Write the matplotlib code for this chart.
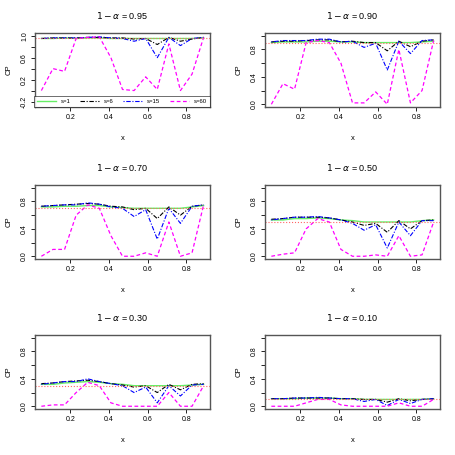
import matplotlib
matplotlib.use("Agg")
import matplotlib.pyplot as plt
import numpy as np

x = [0.05,0.11,0.17,0.23,0.29,0.35,0.41,0.47,0.53,0.59,0.65,0.71,0.77,0.83,0.89]
levels = [0.95,0.90,0.70,0.50,0.30,0.10]
n1 = {0.95:[0.95,0.95,0.96,0.95,0.96,0.96,0.95,0.95,0.95,0.95,0.95,0.95,0.95,0.95,0.96],
      0.90:[0.90,0.91,0.91,0.91,0.92,0.92,0.91,0.91,0.90,0.90,0.90,0.90,0.90,0.91,0.92],
      0.70:[0.72,0.72,0.73,0.73,0.74,0.74,0.72,0.71,0.70,0.70,0.70,0.70,0.70,0.72,0.74],
      0.50:[0.53,0.53,0.55,0.55,0.56,0.55,0.53,0.52,0.50,0.50,0.50,0.50,0.50,0.52,0.53],
      0.30:[0.32,0.32,0.34,0.35,0.36,0.35,0.33,0.32,0.30,0.30,0.30,0.30,0.30,0.31,0.32],
      0.10:[0.11,0.11,0.11,0.12,0.12,0.12,0.11,0.11,0.10,0.10,0.10,0.10,0.10,0.10,0.11]}
n6 = {0.95:[0.95,0.96,0.96,0.96,0.97,0.97,0.96,0.96,0.94,0.95,0.84,0.97,0.90,0.94,0.97],
      0.90:[0.91,0.92,0.92,0.93,0.94,0.94,0.91,0.92,0.90,0.90,0.78,0.92,0.84,0.92,0.94],
      0.70:[0.73,0.74,0.75,0.76,0.77,0.76,0.73,0.72,0.68,0.70,0.55,0.72,0.60,0.73,0.75],
      0.50:[0.54,0.55,0.57,0.57,0.57,0.56,0.53,0.50,0.45,0.48,0.35,0.52,0.40,0.52,0.53],
      0.30:[0.33,0.34,0.36,0.37,0.38,0.36,0.33,0.31,0.28,0.30,0.20,0.32,0.24,0.32,0.33],
      0.10:[0.11,0.11,0.12,0.12,0.12,0.12,0.11,0.11,0.10,0.10,0.06,0.11,0.08,0.10,0.11]}
n15 = {0.95:[0.95,0.96,0.96,0.96,0.97,0.98,0.96,0.95,0.90,0.95,0.60,0.97,0.82,0.95,0.97],
       0.90:[0.91,0.93,0.93,0.93,0.95,0.95,0.91,0.92,0.83,0.89,0.50,0.92,0.74,0.93,0.94],
       0.70:[0.73,0.74,0.75,0.75,0.78,0.76,0.72,0.70,0.58,0.68,0.25,0.70,0.48,0.73,0.75],
       0.50:[0.53,0.55,0.57,0.57,0.58,0.56,0.53,0.48,0.38,0.46,0.12,0.50,0.30,0.52,0.52],
       0.30:[0.32,0.34,0.36,0.36,0.40,0.36,0.33,0.30,0.20,0.28,0.05,0.30,0.15,0.31,0.32],
       0.10:[0.11,0.11,0.12,0.12,0.13,0.12,0.11,0.11,0.07,0.10,0.01,0.10,0.04,0.10,0.11]}
n60 = {0.95:[0.00,0.40,0.35,0.95,0.97,0.98,0.60,0.02,0.00,0.25,0.02,0.85,0.00,0.30,0.97],
       0.90:[0.00,0.30,0.22,0.90,0.93,0.90,0.60,0.02,0.02,0.18,0.00,0.80,0.02,0.20,0.93],
       0.70:[0.00,0.10,0.10,0.60,0.75,0.70,0.30,0.00,0.00,0.05,0.00,0.50,0.00,0.05,0.75],
       0.50:[0.00,0.03,0.05,0.40,0.55,0.50,0.10,0.00,0.00,0.02,0.00,0.30,0.00,0.02,0.50],
       0.30:[0.00,0.02,0.02,0.20,0.35,0.30,0.05,0.00,0.00,0.00,0.00,0.20,0.00,0.00,0.30],
       0.10:[0.00,0.00,0.00,0.05,0.10,0.10,0.02,0.00,0.00,0.00,0.00,0.05,0.00,0.00,0.10]}
labels = ["s=1","s=6","s=15","s=60"]

plt.rcParams['font.family'] = ['Liberation Sans','DejaVu Sans']
fig = plt.figure(figsize=(4.55,4.55), dpi=100)
W = H = 455
lefts = [35, 265]; width = 175
tops = [33, 185, 335]; height = 74
for i, lv in enumerate(levels):
    r, c = divmod(i, 2)
    ax = fig.add_axes([lefts[c]/W, 1-(tops[r]+height)/H, width/W, height/H])
    ax.plot(x, n1[lv], color='#66ee66', lw=1.0, ls='-')
    ax.plot(x, n6[lv], color='black', lw=0.8, ls=(0,(4,1.5,1,1.5)))
    ax.plot(x, n15[lv], color='blue', lw=0.8, ls=(0,(1,1.5,4,1.5)))
    ax.plot(x, n60[lv], color='magenta', lw=0.9, ls=(0,(3,2)))
    ax.axhline(lv, color='#ff6666', lw=0.8, ls=':')
    ax.set_xlim(0.017, 0.923)
    if i == 0:
        ax.set_ylim(-0.3, 1.05)
        ax.set_yticks([-0.2,0.0,0.2,0.4,0.6,0.8,1.0])
        ax.set_yticklabels(['-0.2','','0.2','','0.6','','1.0'])
        leg = ax.legend(labels, loc='lower right', ncol=4, fontsize=4.3, frameon=True,
                  fancybox=False, edgecolor='black', handlelength=3.2, columnspacing=1.6,
                  borderaxespad=0.0, borderpad=0.5)
        leg.get_frame().set_linewidth(0.5)
    else:
        ax.set_ylim(-0.04, 1.04)
        ax.set_yticks([0,0.2,0.4,0.6,0.8,1.0])
        ax.set_yticklabels(['0.0','','0.4','','0.8',''])
    ax.set_xticks([0.2,0.4,0.6,0.8])
    ax.tick_params(labelsize=5, length=3, width=0.6, pad=2)
    for lab in ax.get_yticklabels():
        lab.set_rotation(90); lab.set_va('center')
    for s in ax.spines.values():
        s.set_color('#555555'); s.set_linewidth(1.0)
    ax.set_title(r'$1-\alpha$ = %.2f' % lv, fontsize=6.5, pad=10)
    ax.set_xlabel('x', fontsize=5.5, labelpad=10)
    ax.set_ylabel('CP', fontsize=5.5, labelpad=6)
fig.savefig('out.png', dpi=100)
